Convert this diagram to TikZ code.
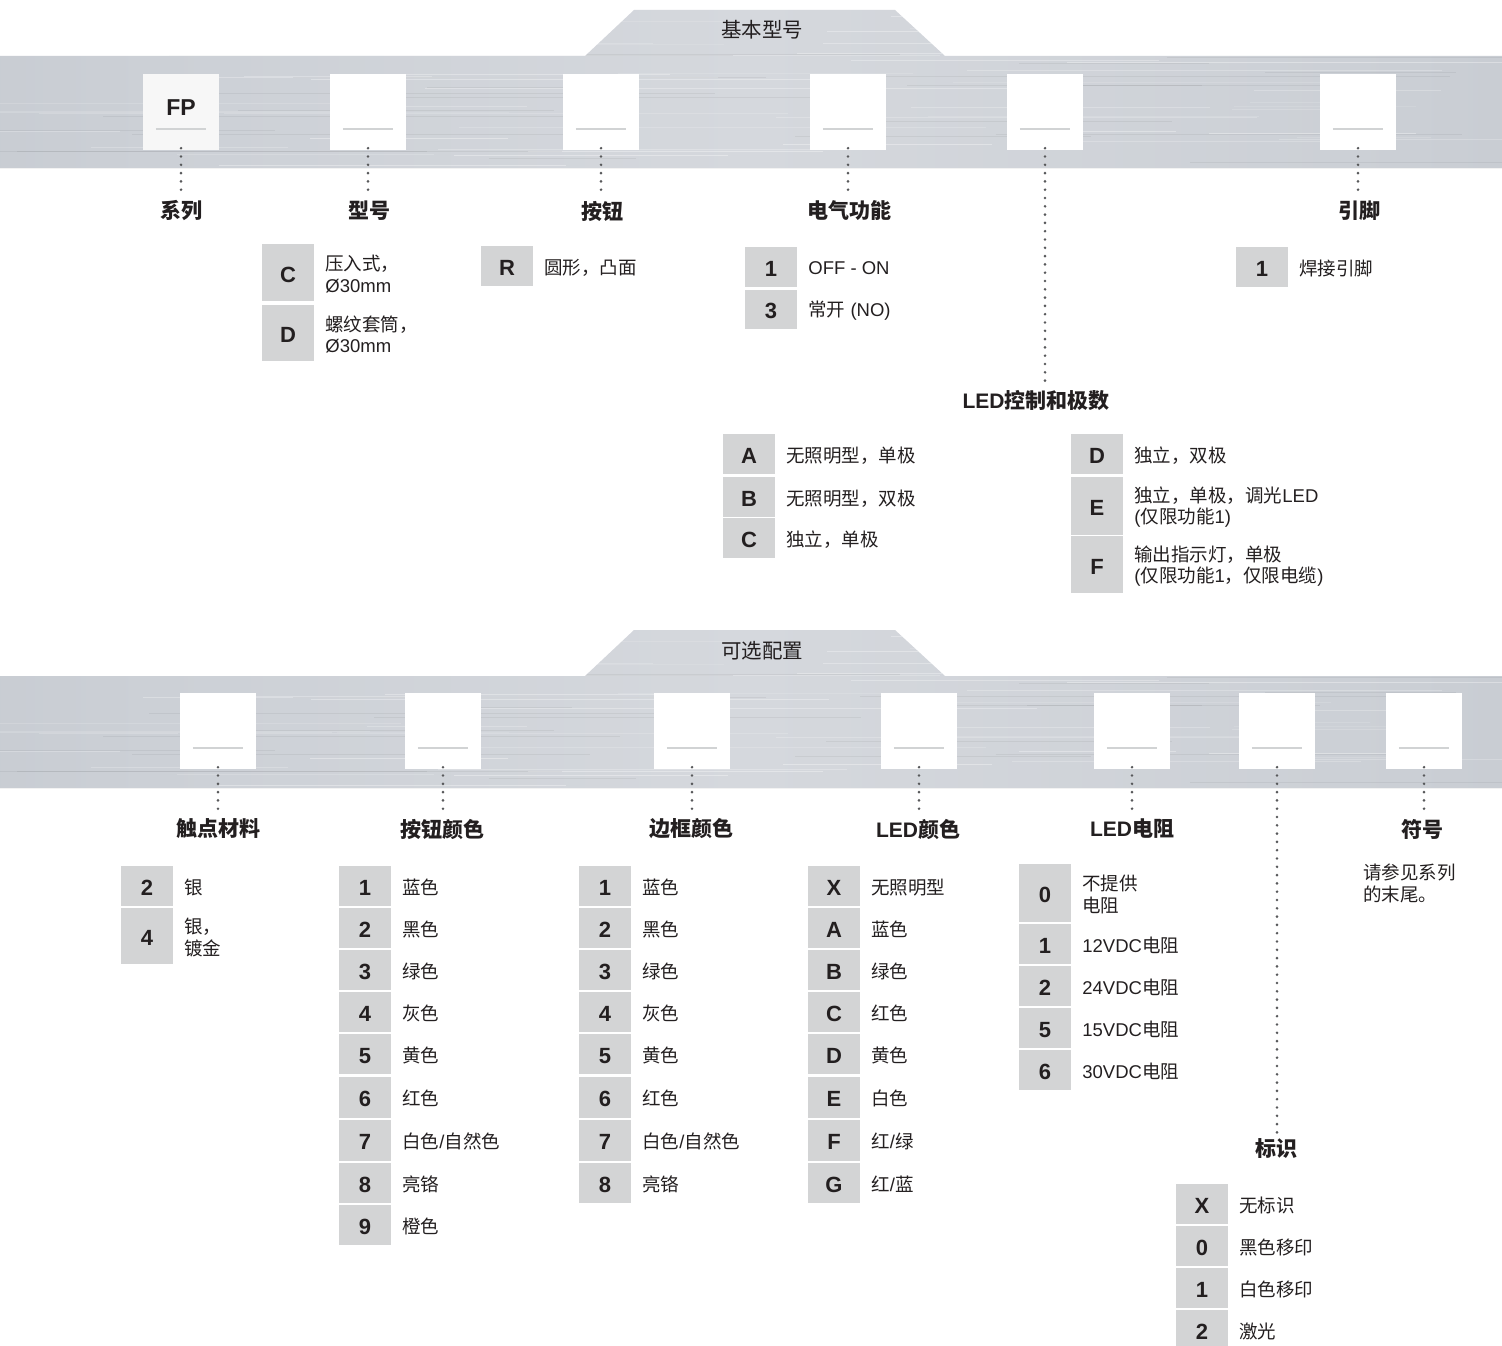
\documentclass[tikz,border=0pt]{standalone}
\usepackage{fontspec}
\setmainfont{Noto Sans CJK SC}
\newfontfamily\latf{Liberation Sans}
\definecolor{ink}{HTML}{231F20}
\definecolor{codegray}{HTML}{D3D4D5}
\definecolor{dotgray}{HTML}{58595B}
\definecolor{slotlinec}{HTML}{D1D3D4}
\definecolor{mA}{RGB}{168,174,183}
\definecolor{mB}{RGB}{190,195,202}
\definecolor{mC}{RGB}{204,208,214}
\definecolor{mD}{RGB}{213,216,221}
\definecolor{mE}{RGB}{203,207,213}
\definecolor{mF}{RGB}{166,172,180}
\pgfdeclarehorizontalshading{metal}{100bp}{color(0bp)=(mA); color(10bp)=(mB); color(30bp)=(mC); color(50bp)=(mD); color(72bp)=(mE); color(88bp)=(mB); color(100bp)=(mF)}
\tikzset{
  opttxt/.style={font=\fontsize{18.5}{21.5}\selectfont, text=ink, inner sep=0pt, align=left, anchor=west},
  headtxt/.style={font=\bfseries\fontsize{21}{24}\selectfont, text=ink, inner sep=0pt},
  tabtxt/.style={font=\fontsize{20.5}{24}\selectfont, text=ink, inner sep=0pt},
  codebox/.style={fill=codegray, minimum width=52pt, inner sep=0pt, text height=19.5pt, text depth=0pt, font=\latf\bfseries\fontsize{22}{26}\selectfont, text=ink},
  slotsq/.style={minimum width=76pt, minimum height=76pt, inner sep=0pt},
  slotline/.style={draw=slotlinec, line width=2.4pt},
  dotline/.style={draw=dotgray, line width=2.9pt, line cap=round, dash pattern=on 0pt off 8.3pt},
}
\newcommand\slotbox[4]{%
  \node[slotsq, fill=#4] (#1) at (#2,#3) {};
  \draw[slotline] ([xshift=13pt,yshift=21pt]#1.south west) -- ([xshift=-13pt,yshift=21pt]#1.south east);
}
\newcommand\optrow[6]{%
  \node[codebox, minimum height=#4pt] (#1) at (#2,#3) {#5};
  \node[opttxt] (#1-t) at ([xshift=11pt,yshift=-1.5pt]#1.east) {#6};
}
\newcommand\band[1]{%
  \begin{scope}[yshift=-#1pt]
    \path[shading=metal] (0,56) -- (585,56) -- (634,10) -- (895,10) -- (945,56) -- (1502,56) -- (1502,168) -- (0,168) -- cycle;
    \begin{scope}
      \clip (0,56) -- (585,56) -- (634,10) -- (895,10) -- (945,56) -- (1502,56) -- (1502,168) -- (0,168) -- cycle;
      \pgfmathsetseed{7}
      \foreach \i in {1,...,60}{
        \pgfmathsetmacro\yy{12+rnd*155}
        \pgfmathsetmacro\xa{rnd*1400-100}
        \pgfmathsetmacro\xl{120+rnd*500}
        \pgfmathsetmacro\op{0.10+rnd*0.25}
        \draw[white, opacity=\op, line width=0.9pt] (\xa,\yy) -- ++(\xl,0);
      }
      \foreach \i in {1,...,30}{
        \pgfmathsetmacro\yy{12+rnd*155}
        \pgfmathsetmacro\xa{rnd*1400-100}
        \pgfmathsetmacro\xl{120+rnd*500}
        \draw[black, opacity=0.05, line width=0.9pt] (\xa,\yy) -- ++(\xl,0);
      }
    \end{scope}
    \draw[white!90!gray, line width=1pt] (0,168.5) -- (1502,168.5);
  \end{scope}
}
\begin{document}
\begin{tikzpicture}[x=1pt,y=-1pt]
\useasboundingbox[fill=white] (0,0) rectangle (1502,1346);

% ===== top band =====
\band{0}
\node[tabtxt] (tab1) at (762,30) {基本型号};
\slotbox{s1}{181}{112}{white!94!gray}
\node[font=\latf\bfseries\fontsize{23}{26}\selectfont, text=ink, inner sep=0pt] (fp) at (181,108) {FP};
\slotbox{s2}{368}{112}{white}
\slotbox{s3}{601}{112}{white}
\slotbox{s4}{848}{112}{white}
\slotbox{s5}{1045}{112}{white}
\slotbox{s6}{1358}{112}{white}

\node[headtxt] (h1) at (181,211) {系列};
\node[headtxt] (h2) at (369,211) {型号};
\node[headtxt] (h3) at (602,211) {按钮};
\node[headtxt] (h4) at (849,211) {电气功能};
\node[headtxt] (h6) at (1359,211) {引脚};
\node[headtxt] (h5) at (1036,401) {{\latf LED}控制和极数};

\foreach \s/\h in {s1/h1,s2/h2,s3/h3,s4/h4,s5/h5,s6/h6}{
  \coordinate (\s-e) at (\s.south |- \h.north);
  \draw[dotline] ([yshift=2pt]\s.south) -- ([yshift=4pt]\s-e);
}

% 型号
\optrow{m-C}{288}{272.5}{57}{C}{压入式，\\{\latf Ø30mm}}
\optrow{m-D}{288}{333}{56}{D}{螺纹套筒，\\{\latf Ø30mm}}
% 按钮
\optrow{b-R}{507}{266}{40}{R}{圆形，凸面}
% 电气功能
\optrow{e-1}{771}{267}{40}{1}{{\latf OFF - ON}}
\optrow{e-3}{771}{309}{39}{3}{常开{\latf\ (NO)}}
% 引脚
\optrow{p-1}{1262}{267}{40}{1}{焊接引脚}
% LED 控制和极数
\optrow{l-A}{749}{454}{40}{A}{无照明型，单极}
\optrow{l-B}{749}{497}{40}{B}{无照明型，双极}
\optrow{l-C}{749}{538}{40}{C}{独立，单极}
\optrow{l-D}{1097}{454}{40}{D}{独立，双极}
\optrow{l-E}{1097}{505.5}{58}{E}{独立，单极，调光{\latf LED}\\{\latf (}仅限功能{\latf 1)}}
\optrow{l-F}{1097}{564.5}{57}{F}{输出指示灯，单极\\{\latf (}仅限功能{\latf 1}，仅限电缆{\latf )}}

% ===== bottom band =====
\band{620}
\node[tabtxt] (tab2) at (762,651) {可选配置};
\slotbox{t1}{218}{731}{white}
\slotbox{t2}{443}{731}{white}
\slotbox{t3}{692}{731}{white}
\slotbox{t4}{919}{731}{white}
\slotbox{t5}{1132}{731}{white}
\slotbox{t6}{1277}{731}{white}
\slotbox{t7}{1424}{731}{white}

\node[headtxt] (g1) at (218,829) {触点材料};
\node[headtxt] (g2) at (442,829) {按钮颜色};
\node[headtxt] (g3) at (691,829) {边框颜色};
\node[headtxt] (g4) at (918,829) {{\latf LED}颜色};
\node[headtxt] (g5) at (1132,829) {{\latf LED}电阻};
\node[headtxt] (g7) at (1422,829) {符号};
\node[headtxt] (g6) at (1276,1149) {标识};

\foreach \s/\h in {t1/g1,t2/g2,t3/g3,t4/g4,t5/g5,t6/g6,t7/g7}{
  \coordinate (\s-e) at (\s.south |- \h.north);
  \draw[dotline] ([yshift=2pt]\s.south) -- ([yshift=4pt]\s-e);
}

% 触点材料
\optrow{c-2}{147}{885.5}{40}{2}{银}
\optrow{c-4}{147}{936}{56}{4}{银，\\镀金}
% 按钮颜色
\optrow{k-1}{365}{886}{40}{1}{蓝色}
\optrow{k-2}{365}{928}{40}{2}{黑色}
\optrow{k-3}{365}{970}{40}{3}{绿色}
\optrow{k-4}{365}{1012}{40}{4}{灰色}
\optrow{k-5}{365}{1054}{40}{5}{黄色}
\optrow{k-6}{365}{1097}{41}{6}{红色}
\optrow{k-7}{365}{1140}{41}{7}{白色{\latf /}自然色}
\optrow{k-8}{365}{1183}{40}{8}{亮铬}
\optrow{k-9}{365}{1225}{40}{9}{橙色}
% 边框颜色
\optrow{f-1}{605}{886}{40}{1}{蓝色}
\optrow{f-2}{605}{928}{40}{2}{黑色}
\optrow{f-3}{605}{970}{40}{3}{绿色}
\optrow{f-4}{605}{1012}{40}{4}{灰色}
\optrow{f-5}{605}{1054}{40}{5}{黄色}
\optrow{f-6}{605}{1097}{41}{6}{红色}
\optrow{f-7}{605}{1140}{41}{7}{白色{\latf /}自然色}
\optrow{f-8}{605}{1183}{40}{8}{亮铬}
% LED颜色
\optrow{d-X}{834}{886}{40}{X}{无照明型}
\optrow{d-A}{834}{928}{40}{A}{蓝色}
\optrow{d-B}{834}{970}{40}{B}{绿色}
\optrow{d-C}{834}{1012}{40}{C}{红色}
\optrow{d-D}{834}{1054}{40}{D}{黄色}
\optrow{d-E}{834}{1097}{41}{E}{白色}
\optrow{d-F}{834}{1140}{41}{F}{红{\latf /}绿}
\optrow{d-G}{834}{1183}{40}{G}{红{\latf /}蓝}
% LED电阻
\optrow{r-0}{1045}{893}{58}{0}{不提供\\电阻}
\optrow{r-1}{1045}{944}{40}{1}{{\latf 12VDC}电阻}
\optrow{r-2}{1045}{986}{40}{2}{{\latf 24VDC}电阻}
\optrow{r-5}{1045}{1028}{40}{5}{{\latf 15VDC}电阻}
\optrow{r-6}{1045}{1070}{40}{6}{{\latf 30VDC}电阻}
% 标识
\optrow{i-X}{1202}{1204}{40}{X}{无标识}
\optrow{i-0}{1202}{1246}{40}{0}{黑色移印}
\optrow{i-1}{1202}{1288}{40}{1}{白色移印}
\optrow{i-2}{1202}{1330}{40}{2}{激光}
% 符号
\node[opttxt] (sym) at (1363,883.5) {请参见系列\\的末尾。};
\end{tikzpicture}
\end{document}
